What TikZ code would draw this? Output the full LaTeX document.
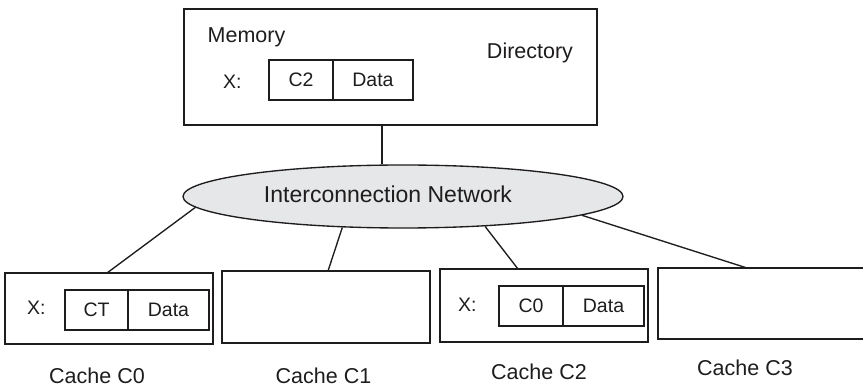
\documentclass[tikz,border=0pt]{standalone}
\usepackage{fontspec}
\setmainfont{Liberation Sans}
\usetikzlibrary{shapes.geometric,calc}
\definecolor{ink}{HTML}{1E1C1D}
\definecolor{netfill}{HTML}{E6E7E8}
\begin{document}
\begin{tikzpicture}[x=1pt,y=-1pt,
  box/.style={draw=ink,line width=1.35pt,inner sep=0pt,outer sep=0pt},
  cell/.style={box,minimum height=40pt,text=ink,font=\fontsize{19.5}{22}\selectfont,text height=14pt,text depth=0pt},
  lbl/.style={inner sep=0pt,text=ink,font=\fontsize{21.5}{24}\selectfont,text height=15.4pt,text depth=0pt},
  xl/.style={inner sep=0pt,text=ink,font=\fontsize{19.5}{22}\selectfont,text height=14pt,text depth=0pt,anchor=west},
  conn/.style={draw=ink,line width=1.35pt}]
\useasboundingbox (0,0) rectangle (863,387);
% memory
\node[box,minimum width=413pt,minimum height=116pt] (mem) at (390.5,67) {};
\node[lbl] (memlbl) at (246.5,35) {Memory};
\node[lbl] (dirlbl) at (530,50.5) {Directory};
\node[xl] (memx) at (223,81.5) {X:};
\node[cell,minimum width=64pt] (memc) at (301,80) {C2};
\node[cell,minimum width=80pt] (memd) at (373,80) {Data};
% network
\node[ellipse,draw=ink,line width=1.35pt,fill=netfill,minimum width=440pt,minimum height=63pt,inner sep=0pt] (net) at (403,196.5) {};
\node[inner sep=0pt,text=ink,font=\fontsize{23}{26}\selectfont,text height=16.5pt,text depth=0pt] (netlbl) at (388,194) {Interconnection Network};
% caches
\node[box,minimum width=208pt,minimum height=71pt] (c0) at (109,308.5) {};
\node[xl] (c0x) at (27,307.5) {X:};
\node[cell,minimum width=63pt] (c0a) at (96.5,310) {CT};
\node[cell,minimum width=81pt] (c0b) at (168.5,310) {Data};
\node[box,minimum width=208pt,minimum height=72pt] (c1) at (326,307) {};
\node[box,minimum width=208pt,minimum height=73pt] (c2) at (544,305.5) {};
\node[xl] (c2x) at (458,305) {X:};
\node[cell,minimum width=64pt] (c2a) at (531,306) {C0};
\node[cell,minimum width=81pt] (c2b) at (603.5,306) {Data};
\node[box,minimum width=207pt,minimum height=71pt] (c3) at (761.5,303.5) {};
\node[lbl] (c0lbl) at (97,375.5) {Cache C0};
\node[lbl] (c1lbl) at (323.5,375.5) {Cache C1};
\node[lbl] (c2lbl) at (539,371.5) {Cache C2};
\node[lbl] (c3lbl) at (745,367.5) {Cache C3};
% connectors
\draw[conn] ($(mem.south)+(-8.5,0)$) coordinate (m) -- (m |- net.north);
\draw[conn] (net.183.6) -- ($(c0.north)+(-2,0)$);
\draw[conn] (net.207.3) -- ($(c1.north)+(2,0)$);
\draw[conn] (net.340.6) -- ($(c2.north)+(-26,0)$);
\draw[conn] (net.354.2) -- ($(c3.north)+(-14.5,0)$);
\end{tikzpicture}
\end{document}
